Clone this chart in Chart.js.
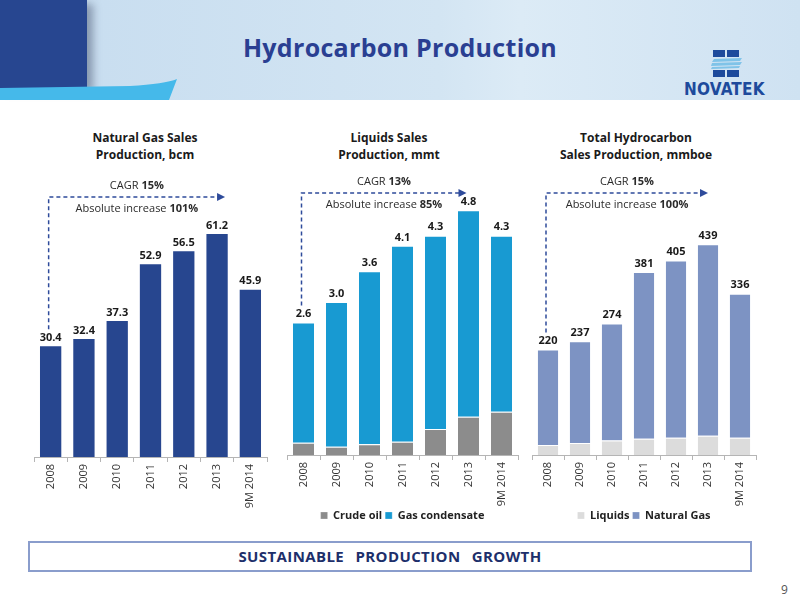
<!DOCTYPE html>
<html>
<head>
<meta charset="utf-8">
<script src="https://cdn.jsdelivr.net/npm/chart.js@4.4.0/dist/chart.umd.min.js"></script>
<style>
body { margin: 0; width: 800px; height: 600px; position: relative; overflow: hidden; background: #fff; font-family: "Open Sans", sans-serif; }
#header { position: absolute; left: 0; top: 0; width: 800px; height: 100px; background: linear-gradient(90deg, #c6dcef 0%, #d3e5f3 55%, #dcebf6 65%, #cfe2f2 100%); }
#block { position: absolute; left: 0; top: 0; width: 87px; height: 88px; background: #274690; box-shadow: 6px 4px 8px rgba(40,50,80,0.4); }
#swoosh { position: absolute; left: 0; top: 76px; }
#title { position: absolute; left: 0; width: 800px; top: 30px; text-align: center; font-size: 25px; font-weight: bold; color: #2a3f92; letter-spacing: 0.3px; }
#logo { position: absolute; left: 676px; top: 48px; width: 100px; }
#logo .txt { position: absolute; left: 8px; top: 31px; font-family: "Liberation Sans Narrow", "DejaVu Sans Condensed", sans-serif; font-weight: bold; font-size: 17px; color: #1d4a9c; letter-spacing: 0.2px; }
.ctitle { position: absolute; width: 220px; text-align: center; font-weight: bold; font-size: 12px; line-height: 17px; color: #1a1a1a; top: 129px; }
.box { position: absolute; }
#banner { position: absolute; left: 28px; top: 541px; width: 724px; height: 31px; box-sizing: border-box; border: 2px solid #8a9dcc; text-align: center; font-weight: bold; font-size: 15px; line-height: 27px; color: #1d2f6b; word-spacing: 7px; letter-spacing: 0.4px; }
#page { position: absolute; left: 781px; top: 581px; font-size: 12px; color: #555; }
</style>
</head>
<body>
<div id="header">
  <div id="block"></div>
  <svg id="swoosh" width="190" height="24" viewBox="0 0 190 24">
    <path d="M0 12 L130 10 Q165 8 177 3 L169 24 L0 24 Z" fill="#45b9ea"/>
  </svg>
  <div id="title">Hydrocarbon Production</div>
  <div id="logo">
    <svg width="100" height="30" viewBox="0 0 100 30" style="position:absolute;left:0;top:0">
      <rect x="37" y="2" width="12" height="7" fill="#1d4a9c"/>
      <rect x="51" y="2" width="12" height="7" fill="#1d4a9c"/>
      <polygon points="38,11 66,10 64,13 36,14" fill="#7fc3e8"/>
      <polygon points="36,15 66,14 64,17 35,18" fill="#7fc3e8"/>
      <polygon points="36,19 64,18 63,20 35,21" fill="#7fc3e8"/>
      <rect x="37" y="22" width="12" height="7" fill="#1d4a9c"/>
      <rect x="51" y="22" width="12" height="7" fill="#1d4a9c"/>
    </svg>
    <div class="txt">NOVATEK</div>
  </div>
</div>

<div class="ctitle" style="left:35px">Natural Gas Sales<br>Production, bcm</div>
<div class="ctitle" style="left:279px">Liquids Sales<br>Production, mmt</div>
<div class="ctitle" style="left:526px">Total Hydrocarbon<br>Sales Production, mmboe</div>

<div class="box" style="left:20px;top:165px"><canvas id="gasChart" width="265" height="350"></canvas></div>
<div class="box" style="left:270px;top:165px"><canvas id="liqChart" width="265" height="366"></canvas></div>
<div class="box" style="left:520px;top:165px"><canvas id="totChart" width="265" height="366"></canvas></div>

<div id="banner">SUSTAINABLE PRODUCTION GROWTH</div>
<div id="page">9</div>

<script>
// categories
const years = ['2008', '2009', '2010', '2011', '2012', '2013', '9M 2014'];

// natural gas sales production, bcm
const gasBcm = [30.4, 32.4, 37.3, 52.9, 56.5, 61.2, 45.9];

// liquids sales production, mmt
const crudeOil = [0.24, 0.16, 0.21, 0.26, 0.51, 0.75, 0.85];
const gasCondensate = [2.36, 2.84, 3.39, 3.84, 3.79, 4.05, 3.45];
const liquidsTotal = [2.6, 3.0, 3.6, 4.1, 4.3, 4.8, 4.3];

// total hydrocarbon sales production, mmboe
const liquidsBoe = [21, 25, 30, 34, 36, 40, 36];
const naturalGasBoe = [199, 212, 244, 347, 369, 399, 300];
const hydrocarbonTotal = [220, 237, 274, 381, 405, 439, 336];

// growth annotations
const cagr = ['15%', '13%', '15%'];
const absIncrease = ['101%', '85%', '100%'];

Chart.defaults.font.family = '"Open Sans", sans-serif';
Chart.defaults.color = '#333';

function drawRich(ctx, parts, cx, y) {
    ctx.textBaseline = 'middle';
    ctx.textAlign = 'left';
    let w = 0;
    parts.forEach(p => {
        ctx.font = (p[1] ? 'bold ' : '') + '11px "Open Sans"';
        w += ctx.measureText(p[0]).width;
    });
    let x = cx - w / 2;
    parts.forEach(p => {
        ctx.font = (p[1] ? 'bold ' : '') + '11px "Open Sans"';
        ctx.fillText(p[0], x, y);
        x += ctx.measureText(p[0]).width;
    });
}

const growthPlugin = {
    id: 'growth',
    afterDatasetsDraw(chart, args, opts) {
        const ctx = chart.ctx;
        const top = chart.getDatasetMeta(chart.data.datasets.length - 1).data;
        ctx.save();
        ctx.font = 'bold 11px "Open Sans"';
        ctx.fillStyle = '#1a1a1a';
        ctx.textAlign = 'center';
        ctx.textBaseline = 'bottom';
        top.forEach((bar, i) => ctx.fillText(opts.totals[i].toFixed(opts.decimals), bar.x, bar.y - 3));

        const x0 = top[0].x - 2, y0 = top[0].y - 17;
        const x1 = top[5].x + opts.tip, y1 = opts.lineY;
        ctx.strokeStyle = '#2e4b9b';
        ctx.lineWidth = 1.5;
        ctx.setLineDash([4, 3]);
        ctx.beginPath();
        ctx.moveTo(x0, y0);
        ctx.lineTo(x0, y1);
        ctx.lineTo(x1 - 6, y1);
        ctx.stroke();
        ctx.setLineDash([]);
        ctx.fillStyle = '#2e4b9b';
        ctx.beginPath();
        ctx.moveTo(x1, y1);
        ctx.lineTo(x1 - 8, y1 - 4);
        ctx.lineTo(x1 - 8, y1 + 4);
        ctx.closePath();
        ctx.fill();

        ctx.fillStyle = '#2b2b2b';
        const cx = (x0 + x1) / 2;
        drawRich(ctx, [['CAGR ', false], [opts.cagr, true]], cx, y1 - 11);
        drawRich(ctx, [['Absolute increase ', false], [opts.increase, true]], cx, y1 + 12);
        ctx.restore();
    }
};

function makeChart(id, datasets, yMax, padding, axisHeight, growth, showLegend) {
    return new Chart(document.getElementById(id), {
        type: 'bar',
        data: { labels: years, datasets: datasets },
        options: {
            responsive: false,
            animation: false,
            layout: { padding: padding },
            datasets: { bar: { barPercentage: 0.64, categoryPercentage: 1 } },
            scales: {
                x: {
                    stacked: true,
                    grid: { drawOnChartArea: false, offset: true, tickLength: 5, color: '#b5b5b5' },
                    border: { color: '#b5b5b5' },
                    ticks: { minRotation: 90, maxRotation: 90, padding: 2, color: '#333', font: { size: 11 } },
                    afterFit(scale) { scale.height = axisHeight; }
                },
                y: { stacked: true, display: false, min: 0, max: yMax }
            },
            plugins: {
                tooltip: { enabled: false },
                legend: {
                    display: showLegend,
                    position: 'bottom',
                    labels: { boxWidth: 7, boxHeight: 7, padding: 3, color: '#222', font: { size: 11, weight: 'bold' } }
                },
                growth: growth
            }
        },
        plugins: [growthPlugin]
    });
}

makeChart('gasChart', [
    { label: 'Natural gas', data: gasBcm, backgroundColor: '#27468f' }
], 70, { top: 37, left: 14, right: 18, bottom: 0 }, 58,
{ totals: gasBcm, decimals: 1, lineY: 32, tip: 8, cagr: cagr[0], increase: absIncrease[0] }, false);

makeChart('liqChart', [
    { label: 'Crude oil', data: crudeOil, backgroundColor: '#8c8c8c', borderColor: '#ffffff', borderWidth: { top: 1 } },
    { label: 'Gas condensate', data: gasCondensate, backgroundColor: '#189ad2', borderColor: '#ffffff', borderWidth: { top: 1 } }
], 4.96, { top: 37, left: 17, right: 17, bottom: 0 }, 52,
{ totals: liquidsTotal, decimals: 1, lineY: 28, tip: -2, cagr: cagr[1], increase: absIncrease[1] }, true);

makeChart('totChart', [
    { label: 'Liquids', data: liquidsBoe, backgroundColor: '#dcdcdc', borderColor: '#ffffff', borderWidth: { top: 1 } },
    { label: 'Natural Gas', data: naturalGasBoe, backgroundColor: '#7d93c3', borderColor: '#ffffff', borderWidth: { top: 1 } }
], 527, { top: 37, left: 12, right: 29, bottom: 0 }, 52,
{ totals: hydrocarbonTotal, decimals: 0, lineY: 28, tip: 0, cagr: cagr[2], increase: absIncrease[2] }, true);
</script>
</body>
</html>
